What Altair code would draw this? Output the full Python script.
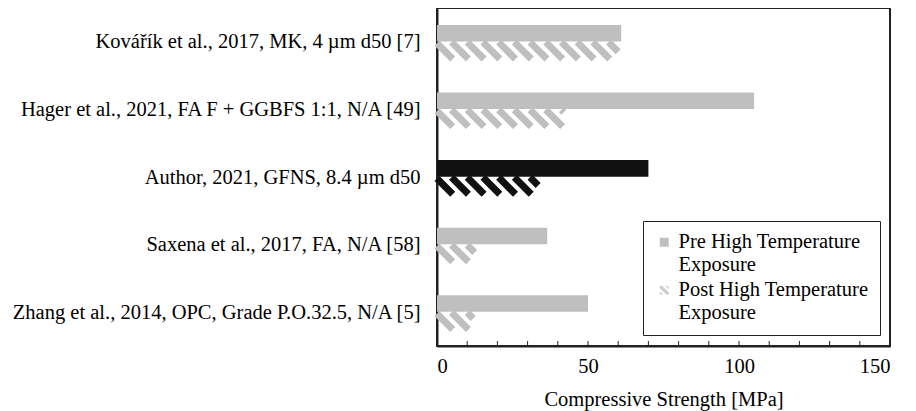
import altair as alt
import pandas as pd
import json

# ---- data ----
categories = [
    "Kovářík et al., 2017, MK, 4 µm d50 [7]",
    "Hager et al., 2021, FA F + GGBFS 1:1, N/A [49]",
    "Author, 2021, GFNS, 8.4 µm d50",
    "Saxena et al., 2017, FA, N/A [58]",
    "Zhang et al., 2014, OPC, Grade P.O.32.5, N/A [5]",
]
pre_values = [61, 105, 70, 36.5, 50]
post_values = [60, 42, 33.5, 12.5, 12]
highlight = [False, False, True, False, False]
series_names = ["Pre High Temperature|Exposure", "Post High Temperature|Exposure"]
x_tick_labels = [0, 50, 100, 150]
x_title = "Compressive Strength [MPa]"

# ---- style ----
FONT = "Liberation Serif, Times New Roman, Times, DejaVu Serif, serif"
FS = 20.5
GRAY = "#bfbfbf"
DARK = "#111111"
W, H_PX = 453, 338
BAR_H = 0.25          # bar thickness in category units
GAP = 0.005
DX = 5.6              # horizontal run of one hatch stripe (MPa) -> ~45 deg
PERIOD = 5.2          # hatch period (MPa)
HATCH = ("M-1,-1L-0.5,-1L1,0.5L1,1L0.5,1L-1,-0.5Z "
         "M0.2,-1L0.7,-1L1,-0.7L1,-0.2Z M-1,0.2L-1,0.7L-0.7,1L-0.2,1Z")

df = pd.DataFrame({
    "cat": categories,
    "idx": list(range(len(categories))),
    "pre": pre_values,
    "post": post_values,
    "col": [DARK if h else GRAY for h in highlight],
})

y_scale = alt.Scale(domain=[0, len(categories)], reverse=True, nice=False, zero=False)
x_scale = alt.Scale(domain=[0, 150], nice=False, zero=True)
label_expr = json.dumps(categories, ensure_ascii=False) + "[floor(datum.value)]"

y_axis = alt.Axis(
    values=[i + 0.5 for i in range(len(categories))],
    labelExpr=label_expr, ticks=False, grid=False, title=None,
    labelPadding=17, labelLimit=1000, domainColor="#222", domainWidth=2,
)
x_axis = alt.Axis(
    values=x_tick_labels, ticks=False, grid=False, title=x_title,
    labelPadding=10, domainColor="#222", domainWidth=2, titlePadding=13,
)

base = alt.Chart(df)

pre_bars = base.transform_calculate(
    zero="0",
    ytop=f"datum.idx + 0.5 - {BAR_H}",
    ybot=f"datum.idx + 0.5 - {GAP}",
).mark_rect().encode(
    x=alt.X("zero:Q", scale=x_scale, axis=x_axis, title=x_title),
    x2="pre:Q",
    y=alt.Y("ytop:Q", scale=y_scale, axis=y_axis, title=None),
    y2="ybot:Q",
    color=alt.Color("col:N", scale=None),
)

stripes = base.transform_calculate(
    s=f"sequence({-DX}, datum.post, {PERIOD})"
).transform_flatten(["s"]).transform_calculate(
    x1="max(datum.s, 0)",
    x2=f"min(datum.s + {DX}, datum.post)",
    top=f"datum.idx + 0.5 + {GAP}",
).transform_calculate(
    y1=f"datum.top + (datum.x1 - datum.s) / {DX} * {BAR_H}",
    y2=f"datum.top + (datum.x2 - datum.s) / {DX} * {BAR_H}",
).transform_filter("datum.x2 > datum.x1").mark_rule(strokeWidth=7).encode(
    x=alt.X("x1:Q", scale=x_scale, title=x_title),
    x2="x2:Q",
    y=alt.Y("y1:Q", scale=y_scale, title=None),
    y2="y2:Q",
    color=alt.Color("col:N", scale=None),
)

ticks = alt.Chart(alt.sequence(10, 150, 10, as_="t")).mark_rule(
    color="#222", strokeWidth=1
).encode(
    x=alt.X("t:Q", scale=x_scale, title=x_title),
    y=alt.value(H_PX),
    y2=alt.value(H_PX - 5),
)

leg = alt.Legend(
    title=None, orient="none", legendX=206, legendY=213,
    strokeColor="#222", fillColor="white", padding=11,
    labelExpr="split(datum.label, '|')", labelFont=FONT, labelFontSize=FS,
    labelColor="black", labelLimit=500, symbolSize=80, symbolOpacity=1,
    symbolStrokeWidth=0, rowPadding=4, labelOffset=4,
)
legend_layer = alt.Chart(pd.DataFrame({"series": series_names})).mark_point(
    filled=True, opacity=0
).encode(
    color=alt.Color("series:N", scale=alt.Scale(domain=series_names, range=[GRAY, "#cccccc"]), legend=leg),
    shape=alt.Shape("series:N", scale=alt.Scale(domain=series_names, range=["square", HATCH]), legend=leg),
)

chart = alt.layer(pre_bars, stripes, ticks, legend_layer).properties(
    width=W, height=H_PX,
    padding={"left": 3, "top": 0, "right": 5, "bottom": 5},
).configure(
    font=FONT
).configure_view(
    stroke="#222", strokeWidth=2
).configure_axis(
    labelFont=FONT, labelFontSize=FS, labelColor="black",
    titleFont=FONT, titleFontSize=FS, titleFontWeight="normal", titleColor="black",
).configure_legend(
    labelFont=FONT
)

chart.save("out.html", embed_options={"renderer": "svg", "actions": False})
